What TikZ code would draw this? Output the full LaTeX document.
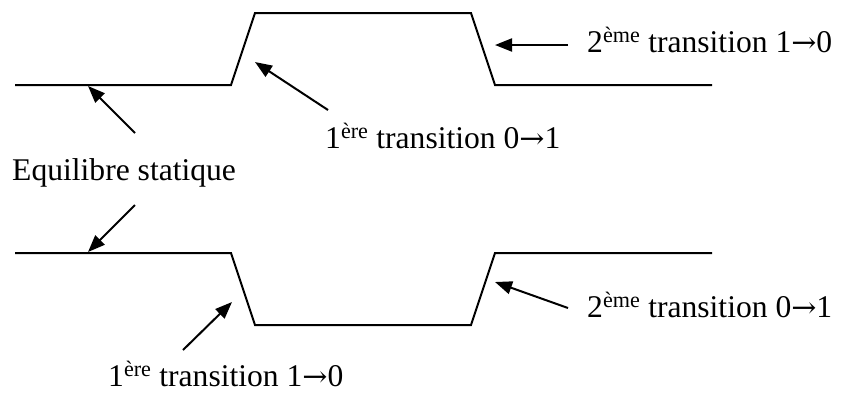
\documentclass[tikz,border=0pt]{standalone}
\usepackage{fontspec}
\setmainfont{Liberation Serif}
\newfontfamily\arrfont{DejaVu Serif}
\usetikzlibrary{arrows.meta}
\newcommand{\myarr}{{\arrfont\scalebox{0.95}[0.9]{→}}}
\begin{document}
\begin{tikzpicture}[x=1pt,y=-1pt,
  wave/.style={line width=2pt,line join=miter},
  pointer/.style={line width=2pt,-{Triangle[length=17pt,width=13pt]}},
  lbl/.style={anchor=base west,inner sep=0pt,font=\fontsize{31.6}{36}\selectfont}]
\useasboundingbox (0,0) rectangle (842,392);
% waveforms
\coordinate (a1) at (15,85);  \coordinate (a2) at (231,85);
\coordinate (a3) at (255,13); \coordinate (a4) at (471,13);
\coordinate (a5) at (495,85); \coordinate (a6) at (712,85);
\draw[wave] (a1) -- (a2) -- (a3) -- (a4) -- (a5) -- (a6);
\coordinate (b1) at (15,253);  \coordinate (b2) at (231,253);
\coordinate (b3) at (255,325); \coordinate (b4) at (471,325);
\coordinate (b5) at (495,253); \coordinate (b6) at (712,253);
\draw[wave] (b1) -- (b2) -- (b3) -- (b4) -- (b5) -- (b6);
% labels
\node[lbl] (eq) at (12,180) {Equilibre statique};
\node[lbl] (t1) at (325,148) {1\textsuperscript{ère} transition 0\myarr1};
\node[lbl] (t2) at (587,52) {2\textsuperscript{ème} transition 1\myarr0};
\node[lbl] (t3) at (587,317) {2\textsuperscript{ème} transition 0\myarr1};
\node[lbl] (t4) at (108,386) {1\textsuperscript{ère} transition 1\myarr0};
% arrows
\coordinate (p1s) at (135,133); \coordinate (p1e) at (88,86);
\coordinate (p2s) at (135,205); \coordinate (p2e) at (88,252);
\coordinate (p3s) at (328,110); \coordinate (p3e) at (255,62);
\coordinate (p4s) at (568,45);  \coordinate (p4e) at (495,45);
\coordinate (p5s) at (568,308); \coordinate (p5e) at (495,282);
\coordinate (p6s) at (183,350); \coordinate (p6e) at (232,302);
\draw[pointer] (p1s) -- (p1e);
\draw[pointer] (p2s) -- (p2e);
\draw[pointer] (p3s) -- (p3e);
\draw[pointer] (p4s) -- (p4e);
\draw[pointer] (p5s) -- (p5e);
\draw[pointer] (p6s) -- (p6e);
\end{tikzpicture}
\end{document}
